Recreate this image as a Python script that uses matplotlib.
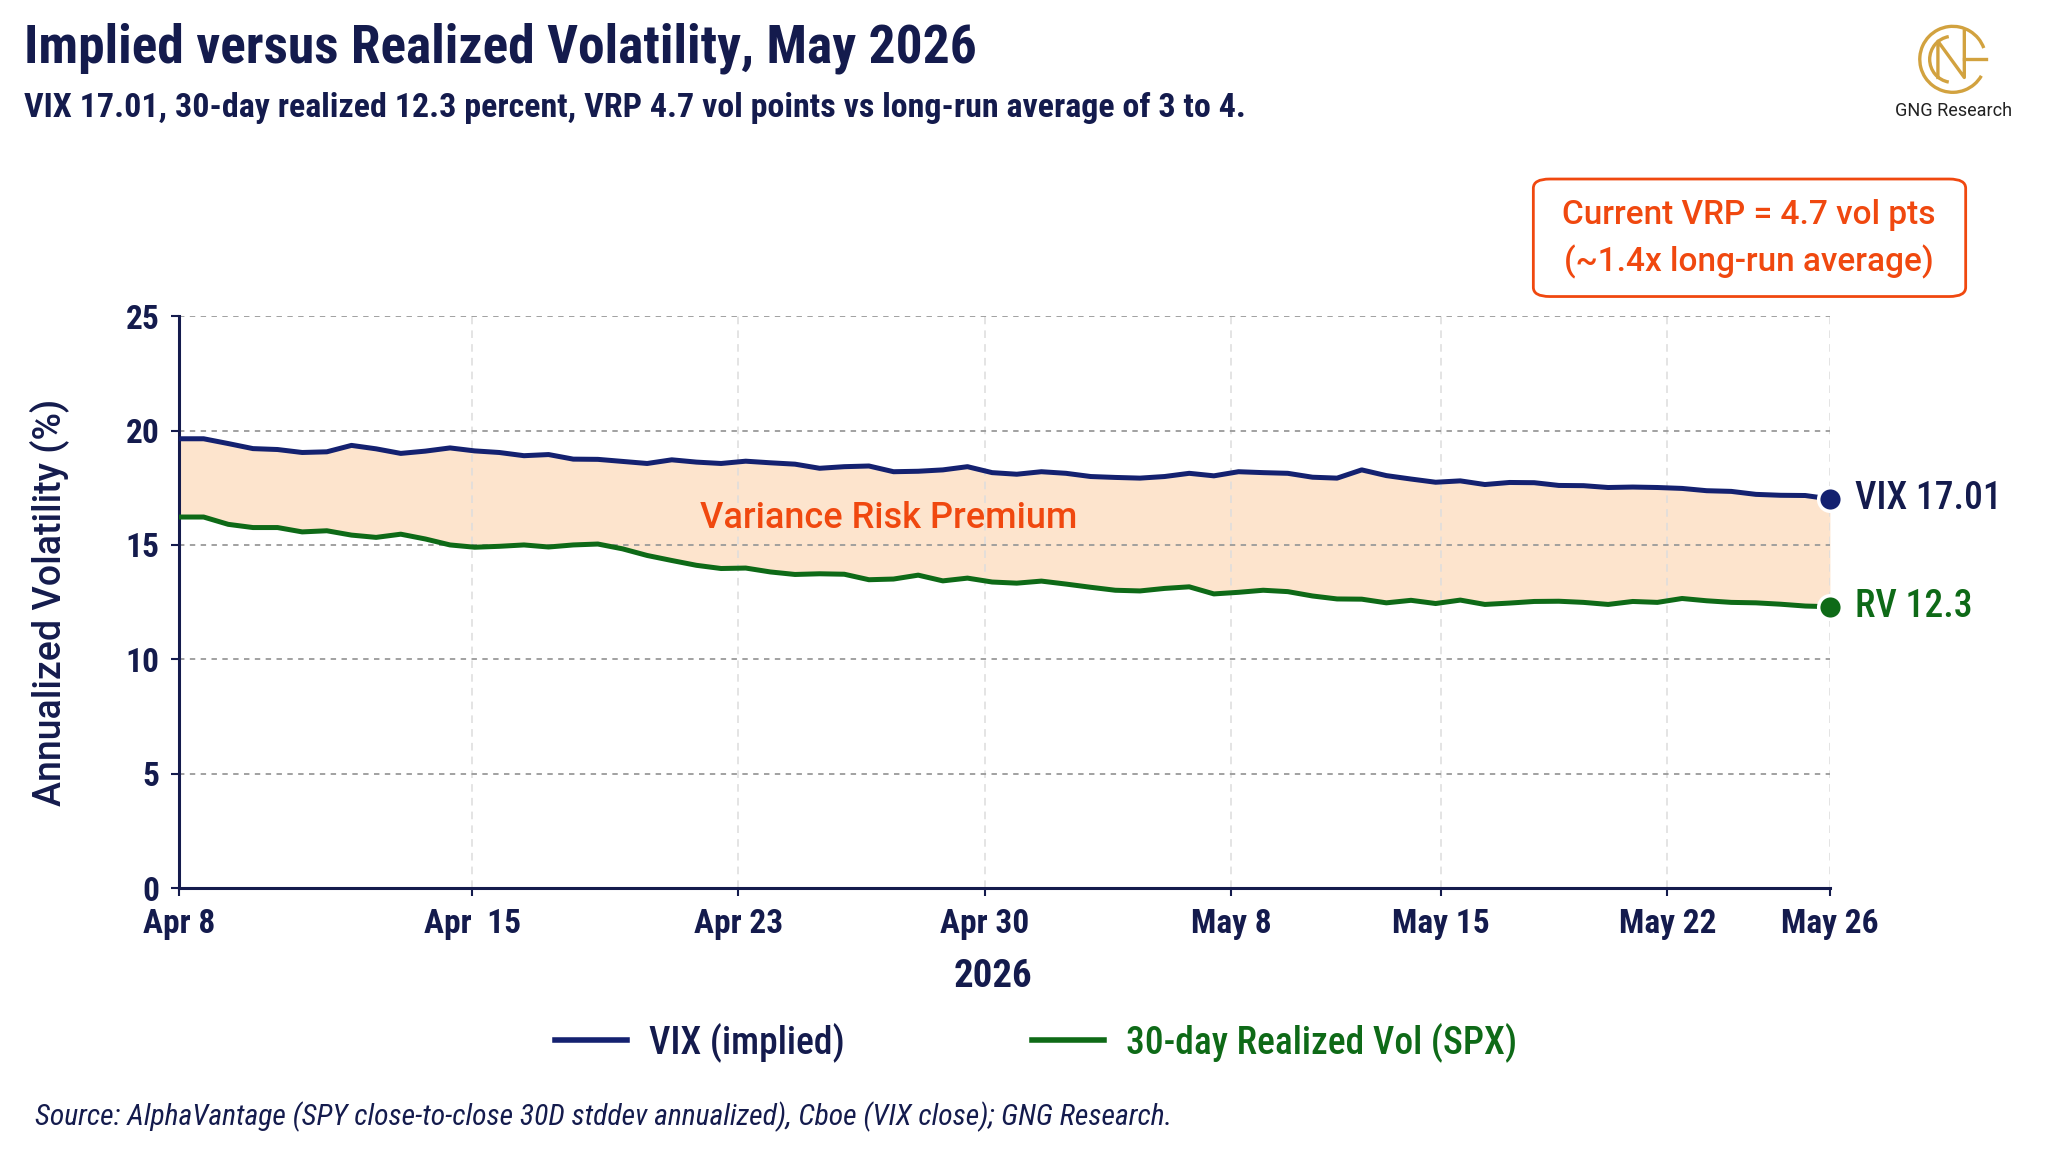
import matplotlib
matplotlib.use("Agg")
import matplotlib.pyplot as plt
from matplotlib import font_manager
from matplotlib.patches import FancyBboxPatch, Arc
import numpy as np

# implied (VIX) and 30-day realized vol, one value per session
vix = [19.64, 19.64, 19.43, 19.21, 19.17, 19.04, 19.07, 19.35, 19.20, 19.00,
       19.10, 19.24, 19.11, 19.04, 18.90, 18.95, 18.75, 18.74, 18.65, 18.56,
       18.72, 18.62, 18.56, 18.66, 18.59, 18.53, 18.35, 18.42, 18.45, 18.20,
       18.22, 18.28, 18.42, 18.16, 18.09, 18.20, 18.13, 17.99, 17.95, 17.92,
       17.99, 18.13, 18.02, 18.20, 18.16, 18.13, 17.96, 17.92, 18.28, 18.03,
       17.88, 17.74, 17.80, 17.64, 17.73, 17.72, 17.60, 17.59, 17.51, 17.53,
       17.51, 17.47, 17.37, 17.34, 17.21, 17.17, 17.16, 17.01]
rv = [16.22, 16.22, 15.90, 15.76, 15.76, 15.57, 15.62, 15.43, 15.33, 15.47,
      15.26, 15.00, 14.90, 14.94, 15.00, 14.91, 15.00, 15.04, 14.83, 14.54,
      14.32, 14.11, 13.97, 13.99, 13.82, 13.71, 13.74, 13.72, 13.48, 13.51,
      13.68, 13.43, 13.55, 13.38, 13.33, 13.42, 13.29, 13.15, 13.02, 12.99,
      13.10, 13.17, 12.86, 12.93, 13.02, 12.96, 12.77, 12.64, 12.63, 12.47,
      12.58, 12.44, 12.59, 12.40, 12.46, 12.53, 12.54, 12.49, 12.40, 12.53,
      12.49, 12.66, 12.56, 12.49, 12.47, 12.41, 12.33, 12.30]
tick_pos = [0, 11.9, 22.7, 32.7, 42.7, 51.2, 60.4, 67]
tick_labels = ["Apr 8", "Apr  15", "Apr 23", "Apr 30", "May 8", "May 15", "May 22", "May 26"]
y_ticks = [0, 5, 10, 15, 20, 25]

NAVY = "#141b4d"
BLUE = "#142170"
GREEN = "#0e6a17"
ORANGE = "#f0480f"
PEACH = "#fde4cd"
GOLD = "#d2a23f"

installed = {f.name for f in font_manager.fontManager.ttflist}
narrow = next((f for f in ["Liberation Sans Narrow", "Roboto Condensed", "Roboto"] if f in installed), "DejaVu Sans")
plain = "Roboto" if "Roboto" in installed else "DejaVu Sans"
plt.rcParams["font.family"] = [narrow, "DejaVu Sans"]

x = np.arange(len(vix))

fig = plt.figure(figsize=(20.48, 11.52), dpi=100)
ax = fig.add_axes([0.0874, 0.229, 0.8061, 0.4966])

ax.fill_between(x, rv, vix, color=PEACH, lw=0, zorder=1)
ax.plot(x, vix, color=BLUE, lw=3.6, label="VIX (implied)", zorder=3, solid_joinstyle="round")
ax.plot(x, rv, color=GREEN, lw=3.6, label="30-day Realized Vol (SPX)", zorder=3, solid_joinstyle="round")
ax.plot(x[-1], vix[-1], "o", ms=17, color=BLUE, mec="white", mew=2.5, zorder=5, clip_on=False)
ax.plot(x[-1], rv[-1], "o", ms=17, color=GREEN, mec="white", mew=2.5, zorder=5, clip_on=False)

ax.text(x[-1] + 1.0, vix[-1], f"VIX {vix[-1]:.2f}", color=NAVY, fontsize=27,
        fontweight="medium", va="center", ha="left", clip_on=False)
ax.text(x[-1] + 1.0, rv[-1], f"RV {rv[-1]:.1f}", color=GREEN, fontsize=27,
        fontweight="medium", va="center", ha="left", clip_on=False)
ax.text(28.8, 16.15, "Variance Risk Premium", color=ORANGE, fontsize=26,
        family=plain, fontweight="medium", ha="center", va="center", zorder=4)

ax.set_xlim(0, 67)
ax.set_ylim(0, 25)
ax.set_xticks(tick_pos)
ax.set_xticklabels(tick_labels)
ax.set_yticks(y_ticks)
ax.tick_params(axis="both", colors=NAVY, labelsize=24, length=6, width=1.5, pad=8)
for lab in ax.get_xticklabels() + ax.get_yticklabels():
    lab.set_fontweight("bold")

ax.grid(axis="y", color="#9a9a9a", ls=(0, (3, 3)), lw=1.3, zorder=0)
ax.grid(axis="x", color="#dddddd", ls=(0, (5, 4)), lw=1.1, zorder=0)
for side in ["top", "right"]:
    ax.spines[side].set_visible(False)
for side in ["left", "bottom"]:
    ax.spines[side].set_color(NAVY)
    ax.spines[side].set_linewidth(2.2)

ax.set_ylabel("Annualized Volatility (%)", fontsize=27, color=NAVY, family=plain,
              fontweight="medium", va="center")
ax.yaxis.set_label_coords(-0.079, 0.5)
ax.set_xlabel("2026", fontsize=28, color=NAVY, fontweight="bold", va="center")
ax.xaxis.set_label_coords(0.493, -0.155)

# titles
fig.text(0.0115, 0.958, "Implied versus Realized Volatility, May 2026", fontsize=38.5,
         fontweight="bold", color=NAVY, va="center", ha="left")
fig.text(0.0115, 0.906, "VIX 17.01, 30-day realized 12.3 percent, VRP 4.7 vol points vs long-run average of 3 to 4.",
         fontsize=24.5, fontweight="bold", color=NAVY, va="center", ha="left")

# callout box
box = FancyBboxPatch((0.7487, 0.7426), 0.2111, 0.102, boxstyle="round,pad=0,rounding_size=0.008",
                     transform=fig.transFigure, fc="white", ec=ORANGE, lw=2, zorder=5)
fig.patches.append(box)
fig.text(0.854, 0.813, "Current VRP = 4.7 vol pts", color=ORANGE, fontsize=24, family=plain,
         fontweight="medium", ha="center", va="center", zorder=6)
fig.text(0.854, 0.773, "(~1.4x long-run average)", color=ORANGE, fontsize=24, family=plain,
         fontweight="medium", ha="center", va="center", zorder=6)

# logo
lax = fig.add_axes([0.931, 0.917, 0.045, 0.063])
lax.set_xlim(-1.1, 1.1)
lax.set_ylim(-1.1, 1.1)
lax.set_aspect("equal")
lax.axis("off")
lax.add_patch(Arc((0, 0), 2, 2, theta1=20, theta2=330, color=GOLD, lw=2.4))
lax.add_patch(Arc((0, 0), 1.4, 1.4, theta1=100, theta2=260, color=GOLD, lw=2.4))
lax.plot([-0.45, -0.45, 0.35, 0.35], [-0.55, 0.55, -0.55, 0.85], color=GOLD, lw=2.4)
lax.plot([0.35, 1.0], [0.0, 0.0], color=GOLD, lw=2.4)
fig.text(0.954, 0.904, "GNG Research", fontsize=13, family=plain, color="#222222",
         ha="center", va="center")

leg = fig.legend(loc="center", bbox_to_anchor=(0.506, 0.0952), ncol=2, frameon=False,
                 fontsize=27, handlelength=1.9, handletextpad=0.6, columnspacing=5.0)
for t, c in zip(leg.get_texts(), [NAVY, GREEN]):
    t.set_color(c)
    t.set_fontweight("medium")
for h in leg.legend_handles:
    h.set_linewidth(4)

fig.text(0.0172, 0.0306, "Source: AlphaVantage (SPY close-to-close 30D stddev annualized), Cboe (VIX close); GNG Research.",
         fontsize=21.3, style="italic", color=NAVY, va="center", ha="left")

fig.savefig("out.png", dpi=100, facecolor="white")
